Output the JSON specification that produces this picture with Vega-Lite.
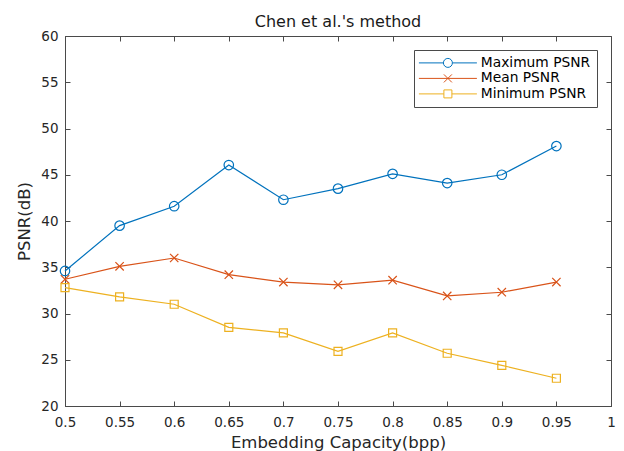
{
  "$schema": "https://vega.github.io/schema/vega-lite/v6.json",
  "width": 546,
  "height": 370,
  "autosize": {"type": "none"},
  "padding": {"left": 65, "top": 36, "right": 13, "bottom": 45},
  "background": "white",
  "title": {"text": "Chen et al.'s method", "fontSize": 16, "fontWeight": "normal", "font": "DejaVu Sans", "color": "#1a1a1a", "offset": -1},
  "config": {
    "view": {"stroke": "#4a4a4a", "strokeWidth": 1},
    "axis": {"grid": false, "labelFont": "DejaVu Sans", "titleFont": "DejaVu Sans", "labelFontSize": 13.5, "titleFontSize": 16.5, "titleFontWeight": "normal", "labelColor": "#262626", "titleColor": "#262626", "domainColor": "#4a4a4a", "tickColor": "#4a4a4a", "tickSize": -5}
  },
  "data": {"values": [
    {"x": 0.5, "v": 34.6, "s": "Maximum PSNR"},
    {"x": 0.55, "v": 39.5, "s": "Maximum PSNR"},
    {"x": 0.6, "v": 41.6, "s": "Maximum PSNR"},
    {"x": 0.65, "v": 46.05, "s": "Maximum PSNR"},
    {"x": 0.7, "v": 42.3, "s": "Maximum PSNR"},
    {"x": 0.75, "v": 43.5, "s": "Maximum PSNR"},
    {"x": 0.8, "v": 45.1, "s": "Maximum PSNR"},
    {"x": 0.85, "v": 44.1, "s": "Maximum PSNR"},
    {"x": 0.9, "v": 45.0, "s": "Maximum PSNR"},
    {"x": 0.95, "v": 48.1, "s": "Maximum PSNR"},
    {"x": 0.5, "v": 33.7, "s": "Mean PSNR"},
    {"x": 0.55, "v": 35.1, "s": "Mean PSNR"},
    {"x": 0.6, "v": 36.0, "s": "Mean PSNR"},
    {"x": 0.65, "v": 34.2, "s": "Mean PSNR"},
    {"x": 0.7, "v": 33.4, "s": "Mean PSNR"},
    {"x": 0.75, "v": 33.1, "s": "Mean PSNR"},
    {"x": 0.8, "v": 33.6, "s": "Mean PSNR"},
    {"x": 0.85, "v": 31.9, "s": "Mean PSNR"},
    {"x": 0.9, "v": 32.3, "s": "Mean PSNR"},
    {"x": 0.95, "v": 33.4, "s": "Mean PSNR"},
    {"x": 0.5, "v": 32.8, "s": "Minimum PSNR"},
    {"x": 0.55, "v": 31.8, "s": "Minimum PSNR"},
    {"x": 0.6, "v": 31.0, "s": "Minimum PSNR"},
    {"x": 0.65, "v": 28.5, "s": "Minimum PSNR"},
    {"x": 0.7, "v": 27.9, "s": "Minimum PSNR"},
    {"x": 0.75, "v": 25.9, "s": "Minimum PSNR"},
    {"x": 0.8, "v": 27.9, "s": "Minimum PSNR"},
    {"x": 0.85, "v": 25.7, "s": "Minimum PSNR"},
    {"x": 0.9, "v": 24.4, "s": "Minimum PSNR"},
    {"x": 0.95, "v": 23.0, "s": "Minimum PSNR"}
  ]},
  "layer": [
    {
      "mark": {"type": "line", "strokeWidth": 1.2},
      "encoding": {
        "x": {"field": "x", "type": "quantitative", "scale": {"domain": [0.5, 1], "nice": false, "zero": false},
              "axis": {"title": "Embedding Capacity(bpp)", "values": [0.5,0.55,0.6,0.65,0.7,0.75,0.8,0.85,0.9,0.95,1], "format": "~g", "labelPadding": 14, "titlePadding": 6, "labelFlush": false}},
        "y": {"field": "v", "type": "quantitative", "scale": {"domain": [20, 60], "nice": false, "zero": false},
              "axis": {"title": "PSNR(dB)", "values": [20,25,30,35,40,45,50,55,60], "labelPadding": 12, "titlePadding": 8, "labelFlush": false}},
        "color": {"field": "s", "type": "nominal",
                  "scale": {"domain": ["Maximum PSNR", "Mean PSNR", "Minimum PSNR"], "range": ["#0072BD", "#D95319", "#EDB120"]},
                  "legend": {"title": null, "orient": "top-right", "offset": 14, "strokeColor": "#4a4a4a", "fillColor": "white", "padding": 6, "labelFont": "DejaVu Sans", "labelFontSize": 13.8, "labelColor": "#000000", "symbolSize": 100, "symbolOffset": 21, "symbolStrokeWidth": 1, "labelOffset": 26, "rowPadding": 0.5,
                    "encode": {"symbols": {"update": {
                      "shape": {"signal": "datum.value === 'Maximum PSNR' ? 'M-5.8,0L-0.9,0A0.9,0.9 0 1,1 0.9,0A0.9,0.9 0 1,1 -0.9,0M0.9,0L5.8,0' : datum.value === 'Mean PSNR' ? 'M-5.8,0L5.8,0M-0.8,-0.8L0.8,0.8M-0.8,0.8L0.8,-0.8' : 'M-5.8,0L-0.8,0L-0.8,-0.8L0.8,-0.8L0.8,0.8L-0.8,0.8L-0.8,0M0.8,0L5.8,0'"},
                      "fill": {"value": "transparent"}
                    }}}}
        }
      }
    },
    {
      "transform": [{"filter": "datum.s === 'Maximum PSNR'"}],
      "mark": {"type": "point", "shape": "circle", "filled": false, "strokeWidth": 1.2, "opacity": 1, "size": 90},
      "encoding": {
        "x": {"field": "x", "type": "quantitative", "axis": null},
        "y": {"field": "v", "type": "quantitative", "axis": null},
        "color": {"field": "s", "type": "nominal", "legend": null}
      }
    },
    {
      "transform": [{"filter": "datum.s === 'Mean PSNR'"}],
      "mark": {"type": "point", "shape": "M-1,-1L1,1M-1,1L1,-1", "filled": false, "strokeWidth": 1.2, "opacity": 1, "size": 70},
      "encoding": {
        "x": {"field": "x", "type": "quantitative", "axis": null},
        "y": {"field": "v", "type": "quantitative", "axis": null},
        "color": {"field": "s", "type": "nominal", "legend": null}
      }
    },
    {
      "transform": [{"filter": "datum.s === 'Minimum PSNR'"}],
      "mark": {"type": "point", "shape": "square", "filled": false, "strokeWidth": 1.2, "opacity": 1, "size": 64},
      "encoding": {
        "x": {"field": "x", "type": "quantitative", "axis": null},
        "y": {"field": "v", "type": "quantitative", "axis": null},
        "color": {"field": "s", "type": "nominal", "legend": null}
      }
    },
    {
      "mark": {"type": "point", "opacity": 0},
      "encoding": {
        "x": {"field": "x", "type": "quantitative", "axis": {"orient": "top", "labels": false, "title": null, "domain": false, "values": [0.5,0.55,0.6,0.65,0.7,0.75,0.8,0.85,0.9,0.95,1]}},
        "y": {"field": "v", "type": "quantitative", "axis": {"orient": "right", "labels": false, "title": null, "domain": false, "values": [20,25,30,35,40,45,50,55,60]}}
      }
    }
  ],
  "resolve": {"axis": {"x": "independent", "y": "independent"}}
}
